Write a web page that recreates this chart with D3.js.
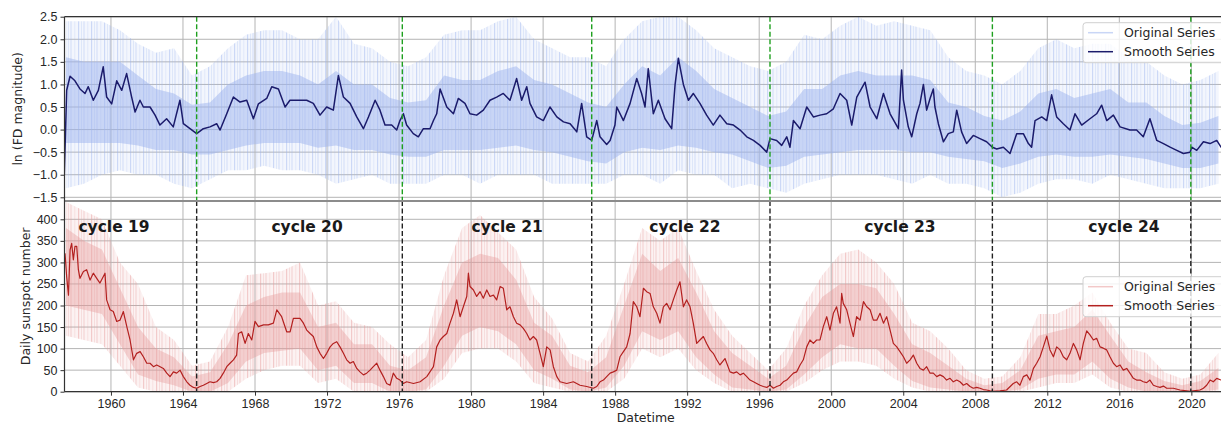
<!DOCTYPE html>
<html>
<head>
<meta charset="utf-8">
<script src="https://cdnjs.cloudflare.com/ajax/libs/d3/7.8.5/d3.min.js"></script>
<style>
  body { margin: 0; background: #fff; }
  svg { display: block; font-family: "DejaVu Sans", sans-serif; }
  .grid line { stroke: #b4b4b4; stroke-width: 1; }
  .tick text { fill: #262626; font-size: 12.5px; }
  .tick line { stroke: #333; }
  .domain { display: none; }
</style>
</head>
<body>
<svg id="chart" width="1221" height="424"></svg>
<script>
// ---- data ----
var yearTicks = [1960, 1964, 1968, 1972, 1976, 1980, 1984, 1988, 1992, 1996, 2000, 2004, 2008, 2012, 2016, 2020];
var fdTicks = [-1.5, -1.0, -0.5, 0.0, 0.5, 1.0, 1.5, 2.0, 2.5];
var ssnTicks = [0, 50, 100, 150, 200, 250, 300, 350, 400];

var cycleStarts = [1964.76, 1976.18, 1986.70, 1996.60, 2008.95, 2019.97];
var cycleNames = ["cycle 19", "cycle 20", "cycle 21", "cycle 22", "cycle 23", "cycle 24"];
var cycleLabelYears = [1960.17, 1970.89, 1982.0, 1991.88, 2003.82, 2016.26];

// smoothed ln(FD magnitude)
var fdSmooth = [[1957.41,-1.0],[1957.54,0.87],[1957.73,1.18],[1958.0,1.08],[1958.28,0.9],[1958.56,0.8],[1958.74,0.95],[1959.02,0.65],[1959.3,0.87],[1959.57,1.39],[1959.76,0.72],[1960.04,0.57],[1960.32,1.08],[1960.6,0.87],[1960.87,1.24],[1961.15,0.72],[1961.34,0.39],[1961.61,0.65],[1961.8,0.5],[1962.17,0.5],[1962.45,0.32],[1962.72,0.1],[1963.09,0.24],[1963.46,0.06],[1963.83,0.65],[1964.02,0.13],[1964.39,0.02],[1964.76,-0.09],[1965.13,0.02],[1965.5,0.06],[1965.87,0.13],[1966.06,-0.01],[1966.43,0.35],[1966.8,0.72],[1967.17,0.61],[1967.54,0.65],[1967.91,0.24],[1968.19,0.57],[1968.65,0.69],[1968.93,0.95],[1969.3,0.9],[1969.67,0.5],[1969.94,0.65],[1970.32,0.65],
  [1970.5,0.65],[1970.87,0.65],[1971.24,0.58],[1971.61,0.32],[1971.98,0.5],[1972.35,0.43],[1972.63,1.2],[1972.91,0.72],[1973.28,0.58],[1973.65,0.28],[1974.02,0.02],[1974.3,0.28],[1974.67,0.65],[1974.94,0.43],[1975.22,0.1],[1975.59,0.1],[1975.87,-0.01],[1976.05,0.2],[1976.24,0.35],[1976.42,0.1],[1976.79,-0.09],[1977.07,-0.16],[1977.35,0.02],[1977.72,0.02],[1977.91,0.2],[1978.09,0.35],[1978.28,0.9],[1978.65,0.5],[1979.02,0.35],[1979.29,0.69],[1979.66,0.58],[1979.94,0.35],[1980.31,0.32],[1980.68,0.43],[1981.05,0.65],[1981.42,0.72],[1981.79,0.8],[1982.16,0.65],[1982.53,1.13],[1982.81,0.65],[1983.09,0.95],[1983.27,0.58],[1983.64,0.28],[1984.01,0.2],[1984.38,0.5],[1984.76,0.28],[1985.13,0.17],[1985.5,0.13],[1985.87,-0.05],[1986.14,0.58],[1986.42,-0.16],[1986.7,-0.24],[1986.98,0.2],[1987.16,-0.16],[1987.53,-0.33],[1987.72,-0.24],[1987.99,0.1],[1988.09,0.5],
  [1988.46,0.2],[1988.83,0.58],[1989.2,1.13],[1989.47,0.8],[1989.66,0.5],[1989.84,1.35],[1990.12,0.35],[1990.4,0.65],[1990.77,0.24],[1991.14,0.02],[1991.33,1.0],[1991.51,1.58],[1991.79,1.0],[1992.07,0.65],[1992.34,0.8],[1992.71,0.58],[1993.08,0.32],[1993.45,0.1],[1993.82,0.32],[1994.2,0.13],[1994.57,0.1],[1994.94,-0.01],[1995.31,-0.16],[1995.68,-0.24],[1996.05,-0.35],[1996.42,-0.5],[1996.6,-0.2],[1996.97,-0.24],[1997.25,-0.35],[1997.53,-0.16],[1997.71,-0.39],[1997.9,0.2],[1998.27,0.02],[1998.64,0.5],[1999.01,0.28],[1999.38,0.32],[1999.75,0.35],[2000.12,0.46],[2000.49,0.8],[2000.86,0.65],[2001.14,0.1],[2001.42,0.72],[2001.88,1.05],[2002.16,0.5],[2002.53,0.24],[2002.9,0.8],[2003.27,0.35],[2003.73,0.02],[2003.91,1.32],
  [2004.01,0.65],[2004.28,0.06],[2004.47,-0.16],[2004.75,0.35],[2004.93,0.58],[2005.12,1.0],[2005.3,0.43],[2005.49,0.69],[2005.67,0.9],[2005.76,0.5],[2005.95,0.13],[2006.23,-0.27],[2006.5,-0.09],[2006.78,-0.05],[2006.97,0.43],[2007.24,-0.05],[2007.52,-0.31],[2007.89,-0.13],[2008.26,-0.2],[2008.63,-0.27],[2008.95,-0.39],[2009.19,-0.43],[2009.56,-0.39],[2009.93,-0.53],[2010.3,-0.09],[2010.67,-0.09],[2010.95,-0.31],[2011.13,-0.39],[2011.32,0.2],[2011.69,0.28],[2011.97,0.2],[2012.24,0.77],[2012.52,0.28],[2012.89,0.13],[2013.26,-0.01],[2013.54,0.35],[2013.91,0.1],[2014.37,0.24],[2014.74,0.35],[2015.02,0.54],[2015.3,0.2],[2015.67,0.32],[2016.04,0.06],[2016.59,-0.01],[2016.96,-0.01],[2017.33,-0.16],[2017.7,0.24],[2018.08,-0.24],[2018.45,-0.31],[2018.82,-0.39],[2019.19,-0.46],[2019.56,-0.53],[2019.93,-0.5],[2020.02,-0.39],[2020.3,-0.46],[2020.67,-0.27],[2021.04,-0.31],[2021.41,-0.24],[2021.65,-0.39],[2021.95,-0.37]];

// smoothed daily sunspot number
var ssnSmooth = [[1957.45,321],[1957.54,267],[1957.64,224],[1957.73,329],[1957.82,344],[1957.91,306],[1958.0,337],[1958.1,337],[1958.19,283],[1958.28,263],[1958.47,279],[1958.65,283],[1958.84,259],[1959.02,275],[1959.21,263],[1959.39,252],[1959.67,275],[1959.76,213],[1959.95,190],[1960.13,186],[1960.32,163],[1960.5,166],[1960.69,186],[1960.88,151],[1961.06,120],[1961.25,74],[1961.43,89],[1961.62,93],[1961.8,81],[1961.99,66],[1962.17,66],[1962.36,58],[1962.54,62],[1962.73,58],[1962.91,54],[1963.1,43],[1963.28,35],[1963.47,46],[1963.65,43],[1963.84,50],[1964.02,35],[1964.21,23],[1964.39,15],[1964.58,10],[1964.76,8],[1964.95,12],[1965.13,15],[1965.32,19],[1965.5,23],[1965.69,21],[1965.87,23],[1966.06,31],[1966.24,43],[1966.43,58],[1966.61,66],[1966.8,74],[1966.98,85],[1967.08,135],[1967.26,139],[1967.45,112],[1967.63,135],[1967.82,120],[1968.0,163],[1968.19,151],[1968.47,155],[1968.74,155],[1969.02,159],[1969.21,190],[1969.48,174],[1969.76,139],[1969.95,139],[1970.13,170],[1970.5,170],
  [1970.69,159],[1970.87,143],[1971.06,135],[1971.24,128],[1971.43,104],[1971.61,89],[1971.8,77],[1971.98,89],[1972.17,104],[1972.35,112],[1972.54,116],[1972.72,104],[1972.91,89],[1973.09,74],[1973.28,66],[1973.46,70],[1973.65,54],[1973.83,46],[1974.02,39],[1974.2,43],[1974.39,50],[1974.57,58],[1974.76,66],[1974.94,50],[1975.13,35],[1975.31,19],[1975.5,15],[1975.68,43],[1975.87,31],[1976.05,27],[1976.24,19],[1976.42,23],[1976.8,19],[1977.17,23],[1977.54,35],[1977.91,58],[1978.09,104],[1978.28,120],[1978.46,128],[1978.65,135],[1978.83,159],[1979.02,182],[1979.2,213],[1979.39,174],[1979.57,197],[1979.76,221],[1979.85,275],[1979.94,244],[1980.13,236],[1980.31,221],[1980.5,232],[1980.68,217],[1980.87,236],[1981.05,221],[1981.24,224],[1981.42,213],[1981.61,244],[1981.79,240],[1981.98,190],[1982.16,197],[1982.35,174],[1982.53,159],[1982.72,155],[1982.9,147],[1983.09,135],[1983.27,120],[1983.46,128],[1983.64,120],[1983.83,89],[1984.01,58],[1984.2,104],[1984.39,97],[1984.57,58],[1984.76,35],[1984.94,23],[1985.31,19],[1985.68,23],[1986.05,15],[1986.42,12],[1986.79,8],[1986.98,12],
  [1987.16,23],[1987.35,27],[1987.53,35],[1987.72,43],[1987.9,46],[1988.09,50],[1988.27,81],[1988.46,93],[1988.64,104],[1988.83,135],[1989.01,209],[1989.2,197],[1989.38,174],[1989.57,240],[1989.75,232],[1989.94,228],[1990.12,197],[1990.31,182],[1990.49,159],[1990.68,197],[1990.86,205],[1991.05,190],[1991.23,213],[1991.42,236],[1991.6,255],[1991.79,197],[1991.97,213],[1992.16,197],[1992.34,159],[1992.53,112],[1992.71,120],[1992.9,128],[1993.08,112],[1993.27,97],[1993.45,89],[1993.64,74],[1993.82,62],[1994.1,77],[1994.38,46],[1994.57,43],[1994.75,46],[1994.94,39],[1995.12,43],[1995.31,35],[1995.49,27],[1995.68,23],[1995.86,19],[1996.05,15],[1996.23,12],[1996.42,10],[1996.6,15],[1996.79,8],[1996.97,12],[1997.16,15],[1997.34,23],[1997.53,27],[1997.71,35],[1997.9,43],[1998.08,46],[1998.27,62],[1998.45,74],[1998.64,104],[1998.82,120],[1999.01,112],[1999.19,120],[1999.38,120],[1999.56,151],[1999.75,174],[1999.93,143],[2000.12,182],[2000.3,197],[2000.49,159],[2000.58,228],[2000.67,205],[2000.86,190],[2001.04,159],[2001.23,128],[2001.41,174],[2001.6,166],[2001.79,209],[2001.97,197],[2002.16,190],[2002.34,166],[2002.53,166],[2002.71,182],[2002.9,159],[2003.08,174],[2003.27,143],[2003.45,112],[2003.64,104],[2003.82,93],
  [2004.01,81],[2004.19,66],[2004.38,74],[2004.56,85],[2004.75,66],[2004.93,54],[2005.12,50],[2005.3,58],[2005.49,43],[2005.67,43],[2005.86,35],[2006.04,39],[2006.23,35],[2006.41,27],[2006.6,31],[2006.78,23],[2006.97,27],[2007.15,23],[2007.34,15],[2007.52,19],[2007.71,12],[2007.89,8],[2008.08,10],[2008.26,8],[2008.45,5],[2008.63,4],[2008.82,2],[2009.0,1],[2009.37,2],[2009.74,4],[2010.11,19],[2010.3,23],[2010.48,15],[2010.67,35],[2010.86,39],[2011.04,27],[2011.23,54],[2011.41,66],[2011.6,81],[2011.78,104],[2011.97,129],[2012.15,97],[2012.34,81],[2012.52,104],[2012.71,97],[2012.89,81],[2013.08,74],[2013.26,89],[2013.45,112],[2013.63,97],[2013.82,74],[2014.0,112],[2014.19,141],[2014.37,132],[2014.56,120],[2014.74,124],[2014.93,104],[2015.11,101],[2015.3,97],[2015.48,81],[2015.67,66],[2015.85,58],[2016.04,62],[2016.22,50],[2016.41,54],[2016.59,43],[2016.78,31],[2016.96,27],[2017.15,27],[2017.33,23],[2017.52,21],[2017.7,27],[2017.89,15],[2018.08,12],[2018.26,10],[2018.45,13],[2018.63,8],[2019.0,8],[2019.37,4],[2019.74,2],[2019.93,1],[2020.11,2],[2020.48,4],[2020.67,8],[2020.85,15],[2021.04,27],[2021.22,23],[2021.41,31],[2021.65,27],[2021.95,30]];

// yearly envelope of the raw (original) series, mid-year samples 1957.5 ... 2021.5
var envYears = d3.range(1957.5, 2022, 1);
var fdHigh  = [2.4,2.4,2.4,2.2,1.9,1.7,1.8,1.2,1.4,1.8,2.1,2.2,2.2,2.0,2.0,2.5,1.9,1.8,1.5,1.4,1.6,2.1,2.2,2.2,2.4,2.5,2.0,1.8,1.6,1.6,1.4,2.0,2.4,2.5,2.5,2.2,1.8,1.6,1.4,1.3,1.5,2.1,2.0,2.3,2.5,2.3,2.4,2.3,2.2,1.6,1.3,1.2,1.0,1.3,1.8,2.0,1.8,1.9,1.9,1.6,1.5,1.2,1.0,1.1,1.3];
var fdUpper = [1.6,1.5,1.5,1.5,1.2,0.9,0.8,0.55,0.6,1.0,1.2,1.3,1.3,1.2,1.0,1.3,1.0,1.0,0.7,0.6,0.65,1.2,1.1,1.1,1.3,1.4,1.1,1.0,0.8,0.6,0.5,1.0,1.4,1.2,1.6,1.3,0.9,0.7,0.5,0.3,0.4,0.9,0.9,1.2,1.3,1.2,1.2,1.2,1.1,0.6,0.5,0.3,0.2,0.4,0.8,0.9,0.7,0.8,0.9,0.6,0.6,0.3,0.1,0.15,0.3];
var fdLower = [-0.3,-0.3,-0.3,-0.3,-0.35,-0.45,-0.45,-0.55,-0.55,-0.45,-0.35,-0.3,-0.3,-0.3,-0.4,-0.35,-0.45,-0.45,-0.55,-0.6,-0.6,-0.45,-0.45,-0.45,-0.4,-0.35,-0.45,-0.5,-0.6,-0.7,-0.75,-0.5,-0.4,-0.45,-0.35,-0.4,-0.5,-0.55,-0.7,-0.85,-0.8,-0.6,-0.55,-0.5,-0.45,-0.45,-0.45,-0.5,-0.5,-0.6,-0.65,-0.7,-0.85,-0.75,-0.6,-0.55,-0.6,-0.6,-0.55,-0.6,-0.65,-0.75,-0.85,-0.85,-0.75];
var fdLow   = [-1.3,-1.2,-1.0,-0.9,-1.0,-1.0,-1.2,-1.3,-1.1,-0.9,-0.9,-0.8,-0.9,-0.9,-1.0,-1.2,-1.1,-1.0,-1.2,-1.2,-1.2,-1.0,-1.0,-1.2,-1.0,-1.0,-1.0,-1.2,-1.2,-1.2,-1.2,-1.0,-1.0,-1.2,-0.9,-1.0,-1.0,-1.3,-1.2,-1.3,-1.4,-1.2,-1.1,-1.0,-1.0,-1.0,-1.1,-1.2,-1.0,-1.2,-1.2,-1.3,-1.5,-1.4,-1.2,-1.1,-1.1,-1.2,-1.0,-1.1,-1.2,-1.3,-1.3,-1.3,-1.2];

var ssnHigh  = [440,420,400,300,250,150,120,60,70,150,270,275,280,300,200,210,160,150,110,80,120,270,380,410,370,330,220,170,90,70,130,250,380,350,380,280,190,130,90,50,100,200,270,320,330,300,250,160,140,100,50,30,35,80,180,180,200,230,160,100,90,45,30,40,90];
var ssnUpper = [380,350,330,240,150,100,80,35,45,110,200,220,230,230,150,160,110,110,60,50,80,200,300,320,310,260,160,130,60,45,80,200,320,280,310,230,140,90,60,30,60,150,220,250,250,240,180,110,90,60,30,15,20,50,130,140,150,190,130,70,45,25,15,25,55];
var ssnLower = [200,190,180,110,40,25,15,0,0,20,70,90,95,100,50,60,20,20,0,0,5,60,130,150,140,110,50,30,5,0,10,60,140,120,140,80,40,10,5,0,5,40,80,110,100,100,60,25,10,5,0,0,0,5,30,40,40,70,30,10,0,0,0,0,5];
var ssnLow   = [130,120,110,60,10,0,0,0,0,0,30,50,60,60,20,30,0,0,0,0,0,30,90,100,100,70,20,10,0,0,0,30,100,80,100,50,20,0,0,0,0,20,50,70,70,60,30,10,0,0,0,0,0,0,10,20,20,40,10,0,0,0,0,0,0];

// ---- layout ----
var svg = d3.select("#chart"),
    plotLeft = 64.5, plotRight = 1227,
    topTop = 16.7, split = 201, botBottom = 391.7;

var x = d3.scaleLinear().domain([1957.42, 2021.98]).range([plotLeft, plotRight]);
var yFD = d3.scaleLinear().domain([-1.5, 2.5]).range([197.3, topTop]);
var ySSN = d3.scaleLinear().domain([0, 400]).range([botBottom, 219.3]);

var defs = svg.append("defs");
defs.append("clipPath").attr("id", "clipTop").append("rect")
    .attr("x", plotLeft).attr("y", topTop).attr("width", plotRight - plotLeft).attr("height", split - topTop);
defs.append("clipPath").attr("id", "clipBot").append("rect")
    .attr("x", plotLeft).attr("y", split).attr("width", plotRight - plotLeft).attr("height", botBottom - split);

// uneven vertical hatching used to suggest the spiky daily series
function stripes(id, color) {
  var p = defs.append("pattern").attr("id", id).attr("patternUnits", "userSpaceOnUse")
    .attr("width", 13).attr("height", 20);
  p.append("rect").attr("width", 13).attr("height", 20).attr("fill", color).attr("fill-opacity", 0.12);
  [[0, 1.2, 0.45], [3, 0.8, 0.3], [5.5, 1, 0.4], [9.5, 0.7, 0.28]].forEach(function(s) {
    p.append("rect").attr("x", s[0]).attr("width", s[1]).attr("height", 20)
      .attr("fill", color).attr("fill-opacity", s[2]);
  });
}
stripes("stripeTop", "#9db4ee");
stripes("stripeBot", "#e79a9a");

function drawPanel(y, ticks, y0, y1, clip, cfg) {
  var g = svg.append("g");
  // grid
  var grid = g.append("g").attr("class", "grid");
  grid.selectAll(".h").data(ticks).enter().append("line")
    .attr("x1", plotLeft).attr("x2", plotRight)
    .attr("y1", function(d) { return y(d); }).attr("y2", function(d) { return y(d); });
  grid.selectAll(".v").data(yearTicks).enter().append("line")
    .attr("x1", function(d) { return x(d); }).attr("x2", function(d) { return x(d); })
    .attr("y1", y0).attr("y2", y1);

  var data = g.append("g").attr("clip-path", "url(#" + clip + ")");
  var env = envYears.map(function(t, i) {
    return {t: t, hi: cfg.high[i], up: cfg.upper[i], lo: cfg.lower[i], low: cfg.low[i]};
  });
  data.append("path").datum(env)
    .attr("d", d3.area().x(function(d) { return x(d.t); })
      .y0(function(d) { return y(d.low); }).y1(function(d) { return y(d.hi); }))
    .attr("fill", "url(#" + cfg.stripe + ")");
  data.append("path").datum(env)
    .attr("d", d3.area().x(function(d) { return x(d.t); })
      .y0(function(d) { return y(d.lo); }).y1(function(d) { return y(d.up); }))
    .attr("fill", cfg.rawColor).attr("fill-opacity", cfg.coreOpacity);
  data.append("path").datum(cfg.smooth)
    .attr("d", d3.line().x(function(d) { return x(d[0]); }).y(function(d) { return y(d[1]); }))
    .attr("fill", "none").attr("stroke", cfg.smoothColor).attr("stroke-width", cfg.smoothWidth)
    .attr("stroke-linejoin", "round");

  // cycle boundaries
  data.selectAll(".cyc").data(cycleStarts).enter().append("line")
    .attr("x1", function(d) { return x(d); }).attr("x2", function(d) { return x(d); })
    .attr("y1", y0).attr("y2", y1)
    .attr("stroke", cfg.dashColor).attr("stroke-width", 1.4).attr("stroke-dasharray", "5,2.5");

  // y axis
  svg.append("g").attr("transform", "translate(" + plotLeft + ",0)")
    .call(d3.axisLeft(y).tickValues(ticks).tickSize(4).tickPadding(3).tickFormat(cfg.fmt));

  // legend
  var lg = svg.append("g").attr("transform", "translate(1083," + cfg.legendY + ")");
  lg.append("rect").attr("width", 150).attr("height", 40).attr("rx", 3)
    .attr("fill", "#fff").attr("fill-opacity", 0.8).attr("stroke", "#d0d0d0");
  [["Original Series", cfg.rawColor, 0.55], ["Smooth Series", cfg.smoothColor, 1]].forEach(function(it, i) {
    lg.append("line").attr("x1", 5).attr("x2", 30).attr("y1", 10 + i * 19).attr("y2", 10 + i * 19)
      .attr("stroke", it[1]).attr("stroke-opacity", it[2]).attr("stroke-width", 1.5);
    lg.append("text").attr("x", 41).attr("y", 10 + i * 19).attr("dy", "0.35em")
      .attr("font-size", "12.5px").attr("fill", "#262626").text(it[0]);
  });
  return g;
}

drawPanel(yFD, fdTicks, topTop, split, "clipTop", {
  smooth: fdSmooth, high: fdHigh, upper: fdUpper, lower: fdLower, low: fdLow,
  rawColor: "#9db4ee", coreOpacity: 0.5, stripe: "stripeTop",
  smoothColor: "#1b1b6b", smoothWidth: 1.5, dashColor: "#1fa01f",
  fmt: d3.format(".1f"), legendY: 22.7
});
drawPanel(ySSN, ssnTicks, split, botBottom, "clipBot", {
  smooth: ssnSmooth, high: ssnHigh, upper: ssnUpper, lower: ssnLower, low: ssnLow,
  rawColor: "#e79a9a", coreOpacity: 0.4, stripe: "stripeBot",
  smoothColor: "#b3201f", smoothWidth: 1.2, dashColor: "#222",
  fmt: d3.format("d"), legendY: 276.7
});

// cycle labels
svg.selectAll(".cycle").data(cycleNames).enter().append("text")
  .attr("x", function(d, i) { return x(cycleLabelYears[i]); })
  .attr("y", ySSN(382)).attr("dy", "0.35em")
  .attr("text-anchor", "middle").attr("font-size", "15.5px").attr("font-weight", "bold")
  .attr("fill", "#1a1a1a").text(function(d) { return d; });

// x axis (bottom)
svg.append("g").attr("transform", "translate(0," + botBottom + ")")
  .call(d3.axisBottom(x).tickValues(yearTicks).tickSize(4).tickPadding(3).tickFormat(d3.format("d")));

// spines
svg.append("line").attr("x1", plotLeft).attr("x2", plotRight).attr("y1", topTop).attr("y2", topTop)
  .attr("stroke", "#333").attr("stroke-width", 1.2);
svg.append("line").attr("x1", plotLeft).attr("x2", plotRight).attr("y1", split).attr("y2", split)
  .attr("stroke", "#8c8c8c").attr("stroke-width", 2.2);
svg.append("line").attr("x1", plotLeft).attr("x2", plotRight).attr("y1", botBottom).attr("y2", botBottom)
  .attr("stroke", "#333").attr("stroke-width", 1.2);
svg.append("line").attr("x1", plotLeft).attr("x2", plotLeft).attr("y1", topTop).attr("y2", botBottom)
  .attr("stroke", "#333").attr("stroke-width", 1.2);

// axis titles
svg.append("text").attr("transform", "translate(18," + ((topTop + split) / 2) + ") rotate(-90)")
  .attr("text-anchor", "middle").attr("dy", "0.35em").attr("font-size", "12.5px").attr("fill", "#262626")
  .text("ln (FD magnitude)");
svg.append("text").attr("transform", "translate(26," + ((split + botBottom) / 2) + ") rotate(-90)")
  .attr("text-anchor", "middle").attr("dy", "0.35em").attr("font-size", "12.5px").attr("fill", "#262626")
  .text("Daily sunspot number");
svg.append("text").attr("x", (plotLeft + plotRight) / 2).attr("y", 422)
  .attr("text-anchor", "middle").attr("font-size", "12.5px").attr("fill", "#262626")
  .text("Datetime");
</script>
</body>
</html>
